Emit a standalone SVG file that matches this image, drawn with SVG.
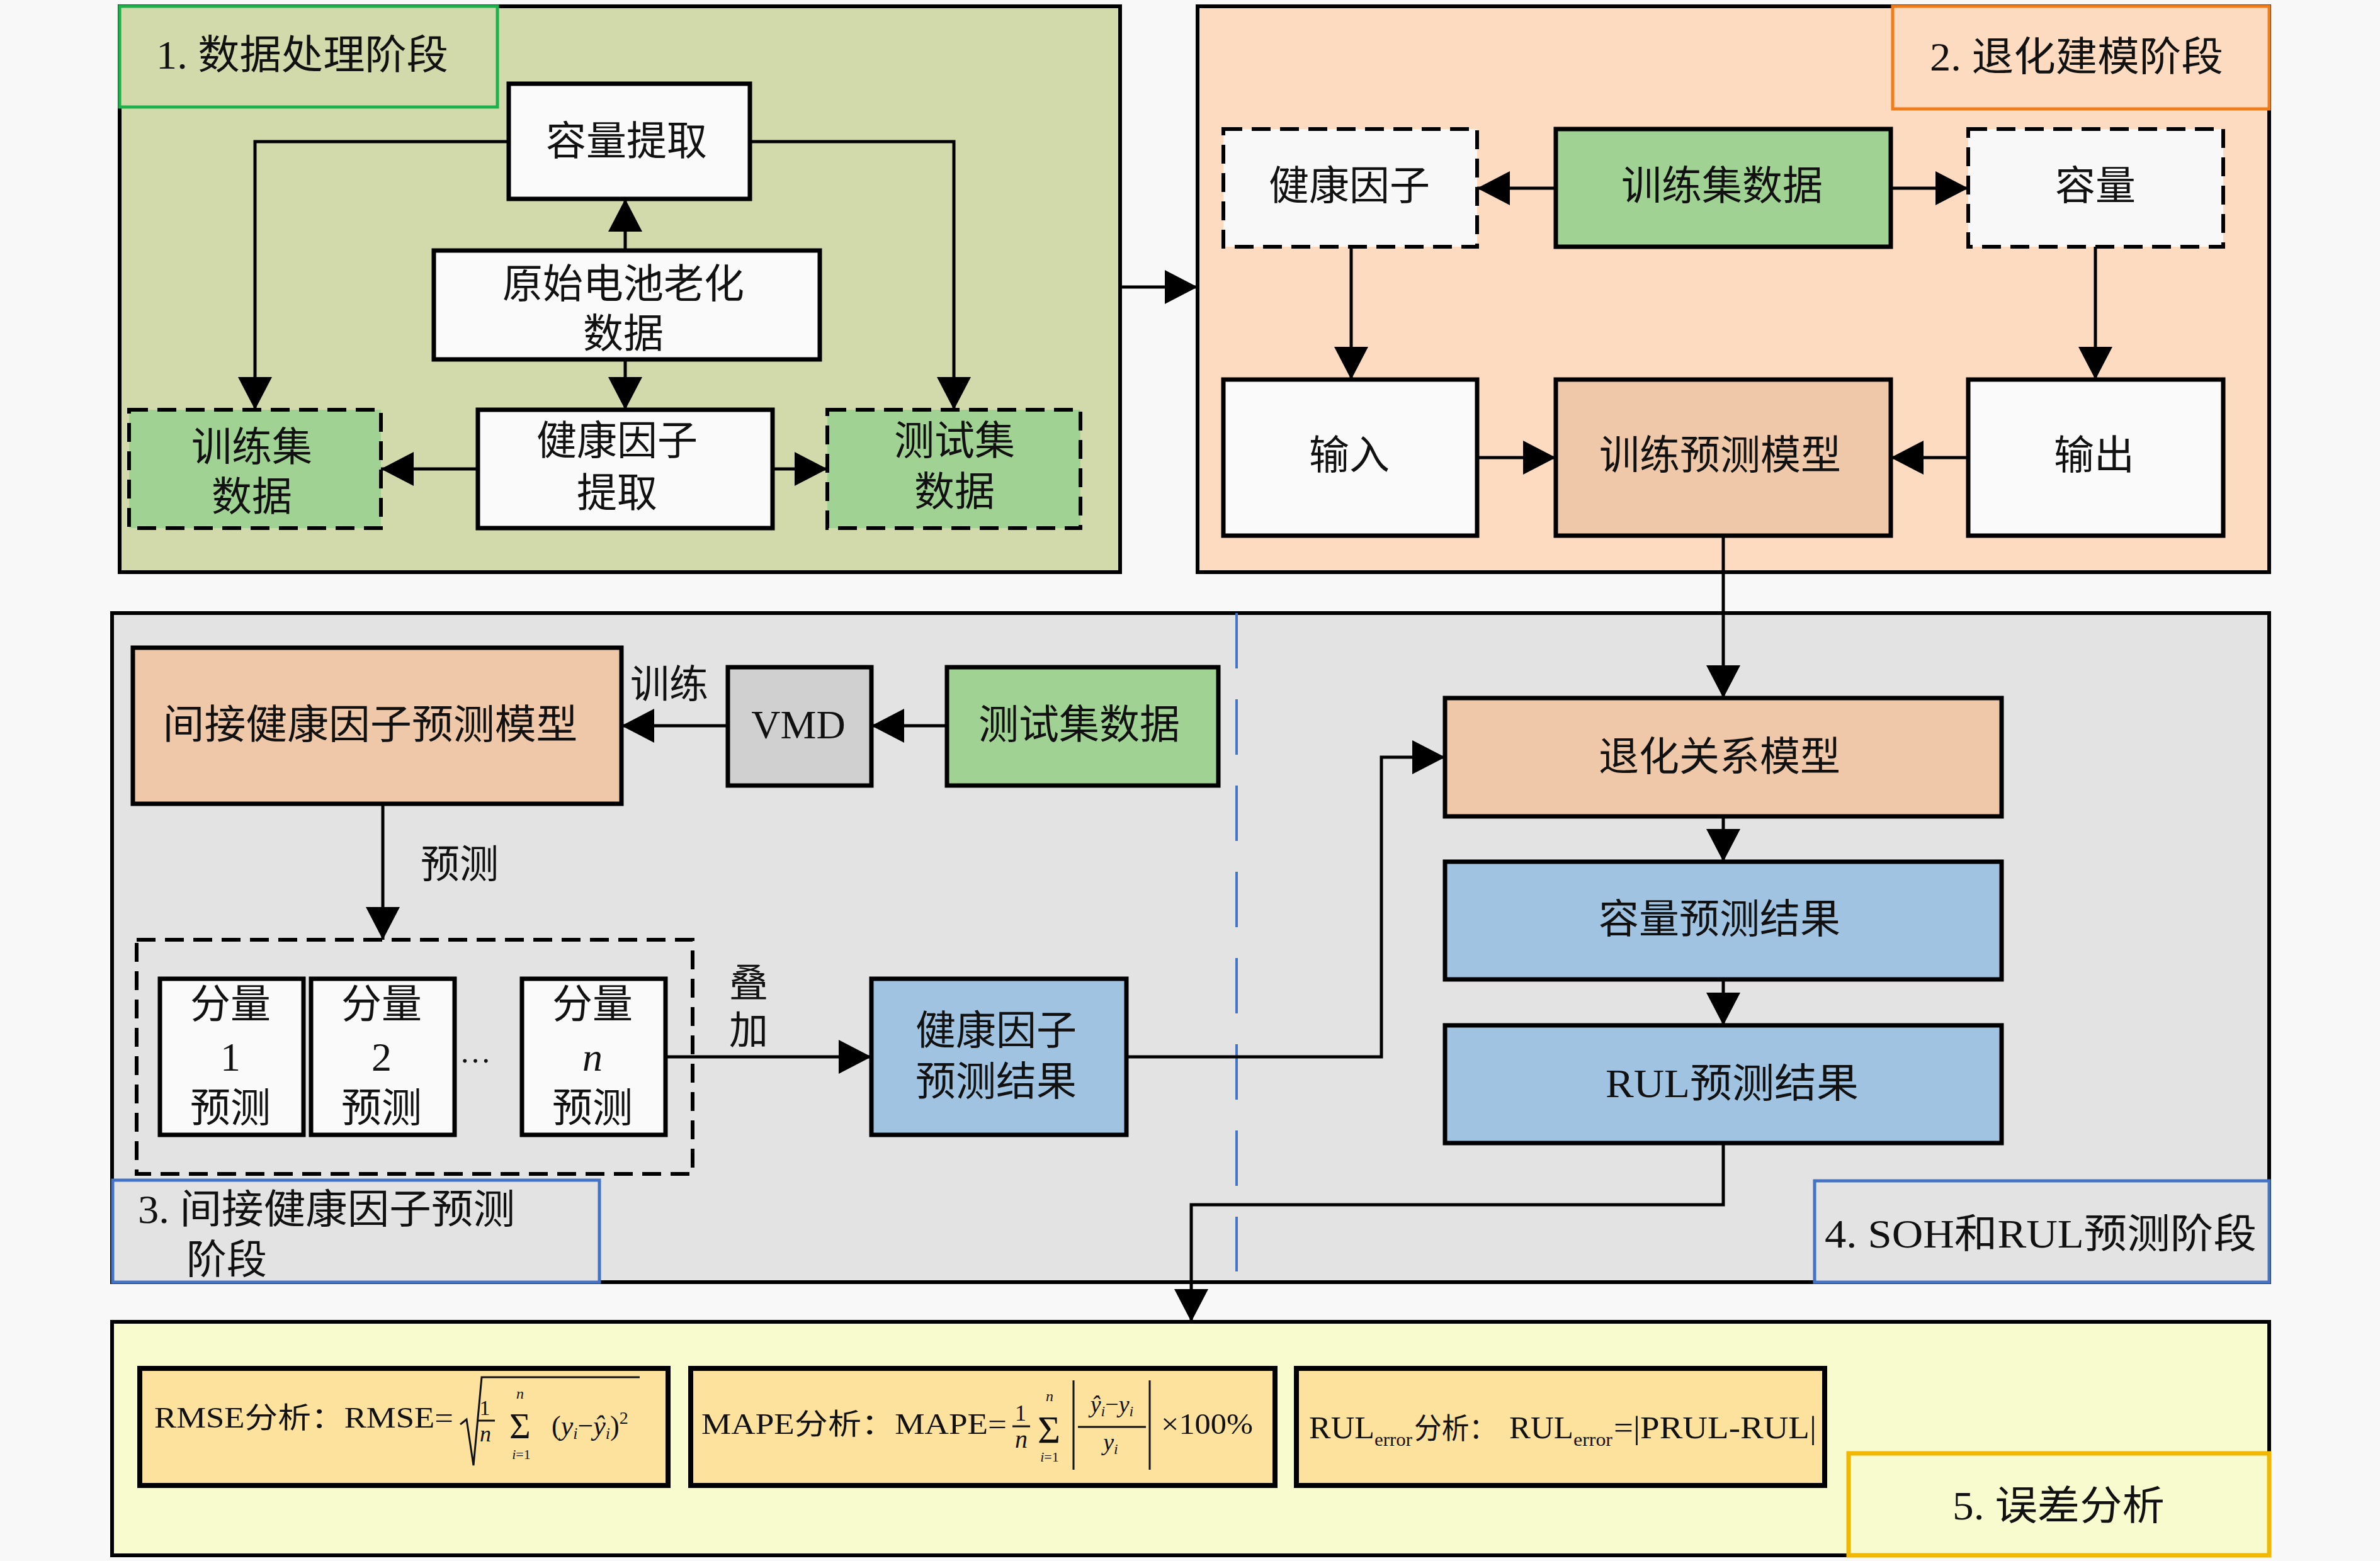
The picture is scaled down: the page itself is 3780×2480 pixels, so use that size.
<svg xmlns="http://www.w3.org/2000/svg" width="3780" height="2480" viewBox="0 0 3780 2480">
<defs>
<marker id="ah" markerUnits="userSpaceOnUse" markerWidth="56" markerHeight="56" refX="52" refY="27" orient="auto" viewBox="0 0 56 56"><path d="M0,0 L52,27 L0,54 z" fill="#000"/></marker>
<style>
text{font-family:"Liberation Serif","Noto Sans CJK SC",serif;fill:#111;}
.t{font-size:64px;text-anchor:middle;dominant-baseline:central;}
.lab{font-size:64px;dominant-baseline:central;}
.panel{stroke:#000;stroke-width:6;}
.n{stroke:#000;stroke-width:7;}
.d{stroke:#000;stroke-width:6;stroke-dasharray:30 15;}
.c{fill:none;stroke:#000;stroke-width:5;}
.a{marker-end:url(#ah);}
.f{font-size:46px;}
.fs{font-size:30px;}
.fb{fill:#fde29e;stroke:#000;stroke-width:8;}
.white{fill:#fafafa;}
.green{fill:#a0d293;}
.orange{fill:#eec8a8;}
.blue{fill:#9fc3e1;}
.it{font-style:italic;}
</style>
</defs>
<rect x="0" y="0" width="3780" height="2480" fill="#f8f8f8"/>

<!-- Panels -->
<g id="panel1">
<rect class="panel" x="190" y="10" width="1589" height="899" fill="#d2d9aa"/>
<rect x="190" y="10" width="600" height="160" fill="#d2d9aa" stroke="#1db14b" stroke-width="5"/>
<text class="lab" x="248" y="87" textLength="464" lengthAdjust="spacingAndGlyphs">1. 数据处理阶段</text>
</g>
<g id="panel2">
<rect class="panel" x="1902" y="10" width="1702" height="899" fill="#fddbc0"/>
<rect x="3006" y="10" width="598" height="163" fill="#fddbc0" stroke="#f07d1a" stroke-width="5"/>
<text class="lab" x="3065" y="90" textLength="466" lengthAdjust="spacingAndGlyphs">2. 退化建模阶段</text>
</g>
<g id="panel34">
<rect class="panel" x="178" y="974" width="3426" height="1063" fill="#e3e3e3"/>
<line x1="1964" y1="974" x2="1964" y2="2020" stroke="#4472c4" stroke-width="4" stroke-dasharray="88 49"/>
<rect x="179" y="1875" width="773" height="162" fill="#e3e3e3" stroke="#4472c4" stroke-width="5"/>
<text class="lab" x="219" y="1921" textLength="599" lengthAdjust="spacingAndGlyphs">3. 间接健康因子预测</text>
<text class="lab" x="296" y="2001">阶段</text>
<rect x="2882" y="1876" width="722" height="161" fill="#e3e3e3" stroke="#4472c4" stroke-width="5"/>
<text class="lab" x="2898" y="1960" textLength="686" lengthAdjust="spacingAndGlyphs">4. SOH和RUL预测阶段</text>
</g>
<g id="panel5">
<rect class="panel" x="178" y="2100" width="3426" height="371" fill="#f8fbcd"/>
<rect x="2936" y="2309" width="668" height="162" fill="#f8fbcd" stroke="#f2b800" stroke-width="7"/>
<text class="lab" x="3101" y="2392" textLength="337" lengthAdjust="spacingAndGlyphs">5. 误差分析</text>
</g>

<!-- Connectors -->
<g id="connectors">
<polyline class="c a" points="808,225 405,225 405,651"/>
<polyline class="c a" points="1191,225 1515,225 1515,651"/>
<line class="c a" x1="993" y1="398" x2="993" y2="316"/>
<line class="c a" x1="993" y1="571" x2="993" y2="651"/>
<line class="c a" x1="759" y1="745" x2="605" y2="745"/>
<line class="c a" x1="1227" y1="745" x2="1314" y2="745"/>
<line class="c a" x1="1779" y1="456" x2="1902" y2="456"/>
<line class="c a" x1="2471" y1="299" x2="2346" y2="299"/>
<line class="c a" x1="3003" y1="299" x2="3126" y2="299"/>
<line class="c a" x1="2146" y1="392" x2="2146" y2="603"/>
<line class="c a" x1="3328" y1="392" x2="3328" y2="603"/>
<line class="c a" x1="2346" y1="727" x2="2471" y2="727"/>
<line class="c a" x1="3126" y1="727" x2="3003" y2="727"/>
<line class="c a" x1="2737" y1="851" x2="2737" y2="1109"/>
<line class="c a" x1="1504" y1="1153" x2="1384" y2="1153"/>
<line class="c a" x1="1156" y1="1153" x2="987" y2="1153"/>
<line class="c a" x1="608" y1="1277" x2="608" y2="1493"/>
<line class="c a" x1="1057" y1="1679" x2="1384" y2="1679"/>
<polyline class="c a" points="1789,1679 2194,1679 2194,1203 2295,1203"/>
<line class="c a" x1="2737" y1="1297" x2="2737" y2="1369"/>
<line class="c a" x1="2737" y1="1556" x2="2737" y2="1629"/>
<polyline class="c a" points="2737,1816 2737,1914 1892,1914 1892,2100"/>
<text class="t" x="1063" y="1088" style="font-size:62px">训练</text>
<text class="t" x="730" y="1374" style="font-size:62px">预测</text>
<text class="t" x="1189" y="1563" style="font-size:62px">叠</text>
<text class="t" x="1189" y="1638" style="font-size:62px">加</text>
</g>

<!-- Panel 1 nodes -->
<g id="n_capext"><rect class="n white" x="808" y="133" width="383" height="183"/><text class="t" x="995" y="224">容量提取</text></g>
<g id="n_raw"><rect class="n white" x="689" y="398" width="613" height="173"/><text class="t" x="990" y="451">原始电池老化</text><text class="t" x="990" y="530">数据</text></g>
<g id="n_hfext"><rect class="n white" x="759" y="651" width="468" height="188"/><text class="t" x="980" y="700">健康因子</text><text class="t" x="980" y="783">提取</text></g>
<g id="n_train1"><rect class="d green" x="205" y="651" width="400" height="188"/><text class="t" x="400" y="710">训练集</text><text class="t" x="400" y="789">数据</text></g>
<g id="n_test1"><rect class="d green" x="1314" y="651" width="402" height="188"/><text class="t" x="1516" y="700">测试集</text><text class="t" x="1516" y="781">数据</text></g>

<!-- Panel 2 nodes -->
<g id="n_hf2"><rect class="d" fill="#f8f8f8" x="1943" y="205" width="403" height="187"/><text class="t" x="2143" y="295">健康因子</text></g>
<g id="n_train2"><rect class="n green" x="2471" y="205" width="532" height="187"/><text class="t" x="2735" y="295">训练集数据</text></g>
<g id="n_cap2"><rect class="d" fill="#f8f8f8" x="3126" y="205" width="405" height="187"/><text class="t" x="3328" y="295">容量</text></g>
<g id="n_in"><rect class="n white" x="1943" y="603" width="403" height="248"/><text class="t" x="2143" y="723">输入</text></g>
<g id="n_trainmodel"><rect class="n orange" x="2471" y="603" width="532" height="248"/><text class="t" x="2732" y="723">训练预测模型</text></g>
<g id="n_out"><rect class="n white" x="3126" y="603" width="405" height="248"/><text class="t" x="3326" y="723">输出</text></g>

<!-- Panel 3 nodes -->
<g id="n_ihfmodel"><rect class="n orange" x="211" y="1029" width="776" height="248"/><text class="t" x="588" y="1151" textLength="659" lengthAdjust="spacingAndGlyphs">间接健康因子预测模型</text></g>
<g id="n_vmd"><rect class="n" fill="#d0d0d0" x="1156" y="1060" width="228" height="188"/><text class="t" x="1268" y="1151">VMD</text></g>
<g id="n_test3"><rect class="n green" x="1504" y="1060" width="431" height="188"/><text class="t" x="1714" y="1151">测试集数据</text></g>
<g id="n_group"><rect class="d" fill="none" x="217" y="1493" width="883" height="372"/>
<text x="755" y="1688" style="font-size:50px;text-anchor:middle">…</text></g>
<g id="n_c1"><rect class="n white" x="254" y="1555" width="228" height="248"/><text class="t" x="366" y="1595">分量</text><text class="t" x="366" y="1679">1</text><text class="t" x="366" y="1760">预测</text></g>
<g id="n_c2"><rect class="n white" x="494" y="1555" width="228" height="248"/><text class="t" x="606" y="1595">分量</text><text class="t" x="606" y="1679">2</text><text class="t" x="606" y="1760">预测</text></g>
<g id="n_cn"><rect class="n white" x="829" y="1555" width="228" height="248"/><text class="t" x="941" y="1595">分量</text><text class="t it" x="941" y="1679">n</text><text class="t" x="941" y="1760">预测</text></g>
<g id="n_hfres"><rect class="n blue" x="1384" y="1555" width="405" height="248"/><text class="t" x="1582" y="1637">健康因子</text><text class="t" x="1582" y="1718">预测结果</text></g>

<!-- Panel 4 nodes -->
<g id="n_degmodel"><rect class="n orange" x="2295" y="1109" width="884" height="188"/><text class="t" x="2731" y="1202">退化关系模型</text></g>
<g id="n_capres"><rect class="n blue" x="2295" y="1369" width="884" height="187"/><text class="t" x="2731" y="1460">容量预测结果</text></g>
<g id="n_rulres"><rect class="n blue" x="2295" y="1629" width="884" height="187"/><text class="t" x="2751" y="1721" textLength="402" lengthAdjust="spacingAndGlyphs">RUL预测结果</text></g>

<!-- Panel 5 formula boxes -->
<g id="n_rmse">
<rect class="fb" x="222" y="2174" width="839" height="186"/>
<text class="f" x="245" y="2268" textLength="475" lengthAdjust="spacingAndGlyphs">RMSE分析：RMSE=</text>
<polyline points="731,2263 741,2255 752,2328 765,2188 1016,2188" fill="none" stroke="#111" stroke-width="3"/>
<text x="770" y="2248" style="font-size:34px;text-anchor:middle">1</text>
<line x1="758" y1="2257" x2="786" y2="2257" stroke="#111" stroke-width="3"/>
<text class="it" x="771" y="2290" style="font-size:36px;text-anchor:middle">n</text>
<text x="826" y="2222" class="it" style="font-size:24px;text-anchor:middle">n</text>
<text x="826" y="2285" style="font-size:58px;text-anchor:middle">Σ</text>
<text x="828" y="2318" style="font-size:22px;text-anchor:middle"><tspan class="it">i</tspan>=1</text>
<text x="876" y="2280" style="font-size:44px">(<tspan class="it">y</tspan><tspan class="it" style="font-size:26px" dy="6">i</tspan><tspan dy="-6">−</tspan><tspan class="it">ŷ</tspan><tspan class="it" style="font-size:26px" dy="6">i</tspan><tspan dy="-6">)</tspan><tspan style="font-size:28px" dy="-18">2</tspan></text>
</g>
<g id="n_mape">
<rect class="fb" x="1097" y="2174" width="928" height="186"/>
<text class="f" x="1114" y="2278" textLength="485" lengthAdjust="spacingAndGlyphs">MAPE分析：MAPE=</text>
<text x="1621" y="2257" style="font-size:36px;text-anchor:middle">1</text>
<line x1="1608" y1="2266" x2="1636" y2="2266" stroke="#111" stroke-width="3"/>
<text class="it" x="1622" y="2300" style="font-size:40px;text-anchor:middle">n</text>
<text class="it" x="1667" y="2226" style="font-size:24px;text-anchor:middle">n</text>
<text x="1666" y="2292" style="font-size:62px;text-anchor:middle">Σ</text>
<text x="1667" y="2322" style="font-size:22px;text-anchor:middle"><tspan class="it">i</tspan>=1</text>
<line x1="1705" y1="2193" x2="1705" y2="2335" stroke="#111" stroke-width="3"/>
<line x1="1826" y1="2193" x2="1826" y2="2335" stroke="#111" stroke-width="3"/>
<text x="1766" y="2244" style="font-size:38px;text-anchor:middle"><tspan class="it">ŷ</tspan><tspan class="it" style="font-size:24px" dy="6">i</tspan><tspan dy="-6">−</tspan><tspan class="it">y</tspan><tspan class="it" style="font-size:24px" dy="6">i</tspan></text>
<line x1="1712" y1="2267" x2="1820" y2="2267" stroke="#111" stroke-width="3"/>
<text x="1764" y="2304" style="font-size:38px;text-anchor:middle"><tspan class="it">y</tspan><tspan class="it" style="font-size:24px" dy="6">i</tspan></text>
<text x="1844" y="2278" style="font-size:46px" textLength="146" lengthAdjust="spacingAndGlyphs">×100%</text>
</g>
<g id="n_rul">
<rect class="fb" x="2059" y="2174" width="839" height="186"/>
<text x="2079" y="2285" style="font-size:50px" textLength="104" lengthAdjust="spacingAndGlyphs">RUL</text>
<text x="2183" y="2297" style="font-size:30px" textLength="60" lengthAdjust="spacingAndGlyphs">error</text>
<text x="2246" y="2285" style="font-size:46px" textLength="131" lengthAdjust="spacingAndGlyphs">分析：</text>
<text x="2397" y="2285" style="font-size:50px" textLength="102" lengthAdjust="spacingAndGlyphs">RUL</text>
<text x="2499" y="2297" style="font-size:30px" textLength="62" lengthAdjust="spacingAndGlyphs">error</text>
<text x="2563" y="2285" style="font-size:50px" textLength="322" lengthAdjust="spacingAndGlyphs">=|PRUL-RUL|</text>
</g>
</svg>
